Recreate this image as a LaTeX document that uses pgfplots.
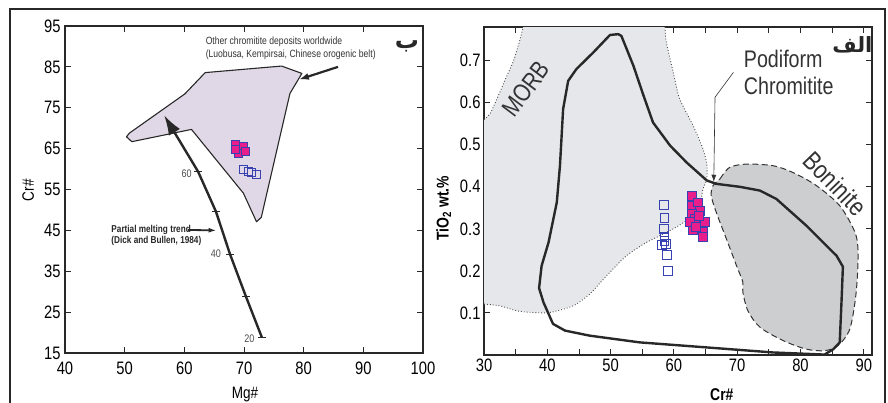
\documentclass[border=0pt]{standalone}
\usepackage{fontspec}
\setmainfont{Liberation Sans}[FakeStretch=0.82]
\newfontfamily\arabicfont[Script=Arabic]{DejaVu Sans}
\TeXXeTstate=1
\usepackage{pgfplots}
\pgfplotsset{compat=1.18}
\usetikzlibrary{arrows.meta}
\definecolor{lavender}{RGB}{224,216,230}
\definecolor{morb}{RGB}{229,231,234}
\definecolor{bonin}{RGB}{205,206,208}
\definecolor{pinkc}{RGB}{232,30,140}
\definecolor{bluec}{RGB}{55,65,175}
\definecolor{ink}{RGB}{40,40,40}
\pgfplotsset{
  common/.style={
    scale only axis, anchor=south west,
    tick align=inside, major tick length=6pt, minor tick length=6pt,
    axis line style={line width=1.1pt, ink},
    every tick/.style={line width=0.9pt, ink},
    ticklabel style={font=\fontsize{18}{20}\selectfont},
    /pgf/number format/assume math mode=true,
  }
}
\begin{document}
\begin{tikzpicture}
\path[use as bounding box] (0,0) rectangle (888pt,403pt);
\draw[line width=1.6pt, ink] (10pt,0) -- (10pt,394pt) -- (885pt,394pt) -- (885pt,0);

% ---------------- Left panel
\begin{axis}[common, at={(65pt,50pt)}, width=358pt, height=327pt,
  xmin=40, xmax=100, ymin=15, ymax=95,
  xtick={40,50,...,100}, ytick={15,25,...,95},
  xticklabel style={yshift=-5pt},
  yticklabel style={xshift=-1pt},
  xlabel={Mg\#}, ylabel={Cr\#},
  label style={font=\fontsize{16.5}{18}\selectfont},
  xlabel style={at={(axis description cs:0.503,-0.128)}, anchor=center},
  ylabel style={at={(axis description cs:-0.103,0.498)}, anchor=center},
]
\addplot[fill=lavender, draw=ink, line width=1.1pt, line join=round] coordinates {
 (63.5,83.6)(76.3,85.2)(79.7,83.4)(77.7,78.5)(72.9,48.2)(72.1,47.1)(69.9,54.1)
 (61.2,69.7)(51.2,66.7)(50.3,67.9)(50.8,68.8)(60.1,78.4)} -- cycle;
\addplot[line width=2.4pt, ink, -{Latex[length=20pt,width=13pt]}] coordinates {
 (73,18.8)(70.3,28.9)(67.65,39.2)(65.3,49.6)(62.3,59.4)(56.6,73.2)};
\addplot[only marks, mark=-, mark size=4pt, mark options={line width=1pt, ink}] coordinates {
 (73,18.8)(70.3,28.9)(67.65,39.2)(65.3,49.6)(62.3,59.4)};
\addplot[line width=2.2pt, ink, -{Latex[length=10pt,width=7pt]}] coordinates {(85.75,85.0)(79.2,81.9)};
\addplot[line width=1.8pt, ink, -{Latex[length=8pt,width=5pt]}] coordinates {(60.6,45.1)(65.4,45.0)};
\addplot[only marks, mark=square*, mark size=4pt, mark options={fill=pinkc, draw=bluec, line width=0.9pt}] coordinates {
 (68.5,65.9)(69.9,65.5)(69.05,63.85)(70.2,64.2)(68.6,64.9)};
\addplot[only marks, mark=square, mark size=4pt, mark options={draw=bluec, line width=0.9pt}] coordinates {
 (69.9,59.8)(70.7,59.4)(71.3,59.1)(72.1,58.8)};
\node[anchor=west, font=\fontsize{10.5}{12}\selectfont, text=black!80] at (axis cs:63,91.1) {Other chromitite deposits worldwide};
\node[anchor=west, font=\fontsize{10.5}{12}\selectfont, text=black!80] at (axis cs:63,87.9) {(Luobusa, Kempirsai, Chinese orogenic belt)};
\node[anchor=west, font=\bfseries\fontsize{10}{12}\selectfont, text=black!85] at (axis cs:47.2,45.2) {Partial melting trend};
\node[anchor=west, font=\bfseries\fontsize{10}{12}\selectfont, text=black!85] at (axis cs:47.2,42.5) {(Dick and Bullen, 1984)};
\node[font=\fontsize{11}{12}\selectfont, text=black!70] at (axis cs:60.4,58.8) {60};
\node[font=\fontsize{11}{12}\selectfont, text=black!70] at (axis cs:65.3,39.2) {40};
\node[font=\fontsize{11}{12}\selectfont, text=black!70] at (axis cs:70.9,18.6) {20};
\node[font=\arabicfont\bfseries\fontsize{24}{26}\selectfont, text=ink] at (axis cs:97.3,90.0) {\beginR ب\endR};
\end{axis}

% ---------------- Right panel
\begin{axis}[common, at={(484pt,48pt)}, width=388pt, height=328pt,
  xmin=30, xmax=91.3, ymin=0, ymax=0.78,
  xtick={30,40,...,90}, minor x tick num=1,
  ytick={0.1,0.2,0.3,0.4,0.5,0.6,0.7},
  xlabel={\bfseries Cr\#}, ylabel={\bfseries TiO\textsubscript{2} wt.\%},
  label style={font=\fontsize{17}{19}\selectfont},
  xlabel style={at={(axis description cs:0.613,-0.122)}, anchor=center},
  ylabel style={at={(axis description cs:-0.104,0.448)}, anchor=center},
]
\addplot[fill=morb, draw=none] coordinates {
 (30,0.56)(31,0.575)(32.5,0.625)(33.5,0.66)(34.6,0.697)(35.5,0.74)(36.2,0.78)
 (58.6,0.78)(58.8,0.744)(59.9,0.672)(60.9,0.609)(63.05,0.545)(64.6,0.49)(65.2,0.454)
 (65.2,0.418)(64.6,0.395)(64.1,0.355)(63.05,0.331)(59.9,0.30)(55.7,0.268)(52.5,0.236)
 (49.4,0.189)(46.7,0.145)(44.1,0.117)(40.4,0.101)(37.8,0.101)(35.2,0.105)(32.5,0.117)(30,0.121)} -- cycle;
\addplot[dotted, line width=0.9pt, black!70, smooth, tension=0.4] coordinates {
 (30,0.56)(31,0.575)(32.5,0.625)(33.5,0.66)(34.6,0.697)(35.5,0.74)(36.2,0.78)};
\addplot[dotted, line width=0.9pt, black!70, smooth, tension=0.4] coordinates {
 (58.6,0.78)(58.8,0.744)(59.9,0.672)(60.9,0.609)(63.05,0.545)(64.6,0.49)(65.2,0.454)
 (65.2,0.418)(64.6,0.395)(64.1,0.355)(63.05,0.331)(59.9,0.30)(55.7,0.268)(52.5,0.236)
 (49.4,0.189)(46.7,0.145)(44.1,0.117)(40.4,0.101)(37.8,0.101)(35.2,0.105)(32.5,0.117)(30,0.121)};
\addplot[fill=bonin, draw=black!80, dash pattern=on 6pt off 3.5pt, line width=1pt, smooth, tension=0.5] coordinates {
 (67.3,0.419)(68.8,0.446)(71.5,0.454)(75.7,0.45)(78.8,0.434)(82.5,0.403)(86.2,0.355)
 (88.6,0.292)(89.1,0.244)(88.8,0.149)(87.8,0.062)(85.9,0.022)(83.8,0.0103)(80.9,0.014)
 (77.3,0.034)(73.6,0.066)(71.7,0.105)(70.9,0.149)(70.9,0.173)(69.9,0.212)(68.3,0.276)
 (66.7,0.339)(65.9,0.379)(66.2,0.403)(67.3,0.419)} -- cycle;
\addplot[line width=2.4pt, ink, line join=round] coordinates {
 (51.2,0.763)(51.7,0.759)(53.6,0.688)(55.2,0.617)(56.7,0.553)(59.4,0.498)(62,0.458)
 (65.2,0.415)(66.7,0.407)(70.4,0.4)(73.6,0.391)(76.2,0.371)(80.9,0.308)(85.7,0.236)
 (86.7,0.21)(86.5,0.133)(86.2,0.03)(85.2,0.014)(83.8,0.001)(75.7,0.006)(65.2,0.018)
 (54.6,0.030)(46.7,0.046)(42.8,0.058)(40.9,0.074)(39.4,0.125)(38.7,0.159)(39.1,0.212)
 (40.2,0.268)(41.5,0.363)(42,0.45)(42.5,0.585)(43.3,0.652)(44.6,0.68)(47.3,0.72)(49.9,0.761)} -- cycle;
\addplot[line width=0.6pt, black!80, -{Latex[length=7pt,width=5pt]}] coordinates {(69.4,0.672)(66.5,0.613)(66.3,0.412)};
\addplot[only marks, mark=square, mark size=4.4pt, mark options={draw=bluec, line width=0.9pt}] coordinates {
 (58.4,0.357)(58.5,0.325)(58.4,0.300)(58.5,0.280)(58.5,0.272)(58.1,0.262)(58.7,0.264)(58.9,0.238)(59.0,0.199)};
\addplot[only marks, mark=square*, mark size=4.4pt, mark options={fill=pinkc, draw=bluec, line width=0.9pt}] coordinates {
 (62.9,0.379)(62.8,0.355)(63.8,0.363)(64.1,0.343)(62.9,0.335)(63.3,0.323)(62.5,0.316)
 (64.9,0.316)(63.05,0.296)(64.6,0.292)(64.6,0.280)(63.5,0.305)(64.0,0.33)};
\node[anchor=west, font=\fontsize{24}{28}\selectfont, text=black!80] at (axis cs:70.5,0.704) {Podiform};
\node[anchor=west, font=\fontsize{24}{28}\selectfont, text=black!80] at (axis cs:70.5,0.64) {Chromitite};
\node[rotate=53, font=\fontsize{25}{28}\selectfont, text=black!80] at (axis cs:36.6,0.633) {MORB};
\node[rotate=-46, font=\fontsize{26}{28}\selectfont, text=black!80] at (axis cs:85.5,0.408) {Boninite};
\node[font=\arabicfont\bfseries\fontsize{21}{23}\selectfont, text=ink] at (axis cs:88.2,0.738) {\beginR الف\endR};
\end{axis}
\end{tikzpicture}
\end{document}
